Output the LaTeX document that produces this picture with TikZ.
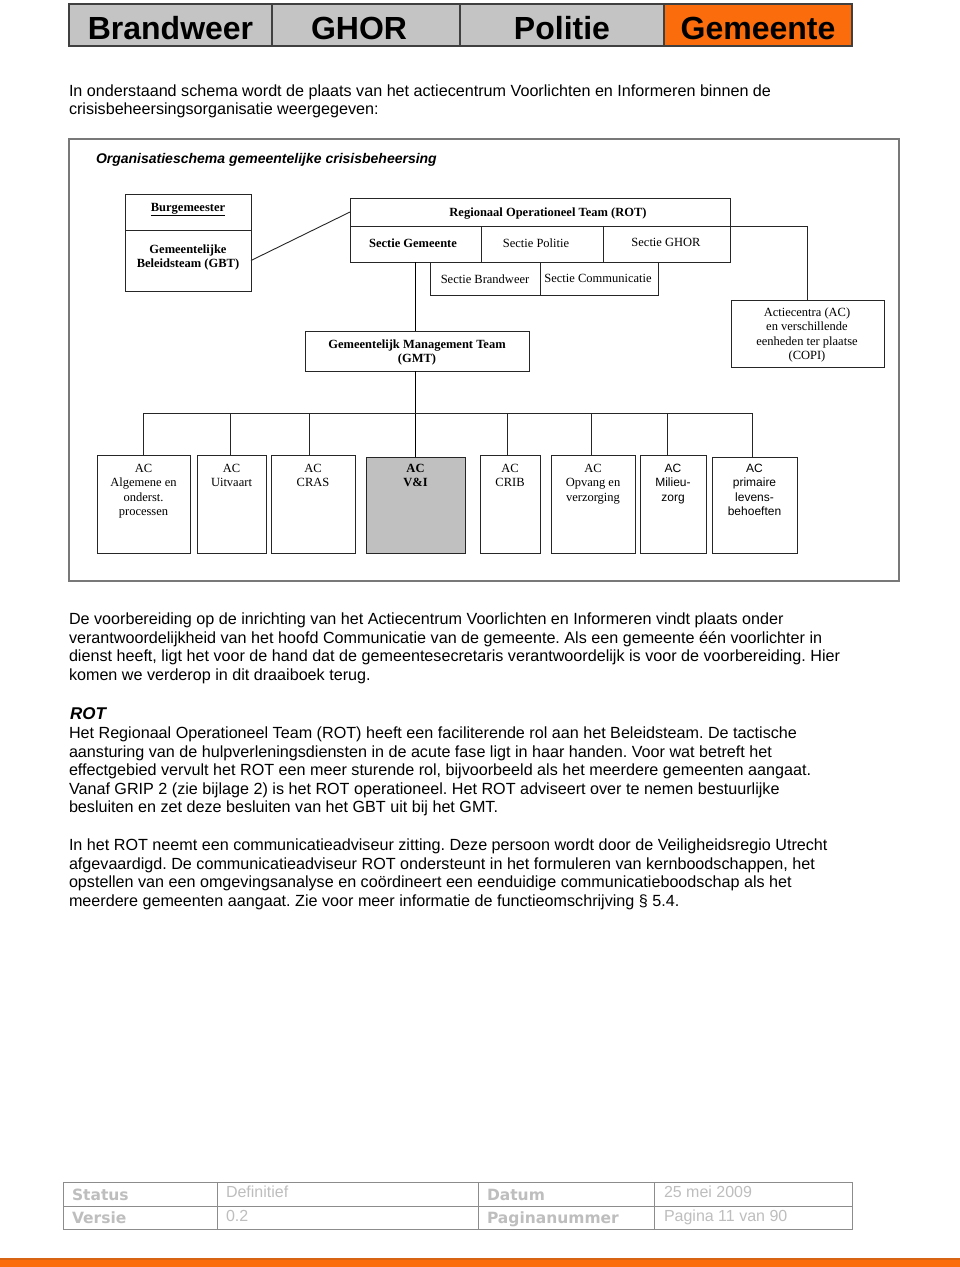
\documentclass[tikz,border=0pt]{standalone}
\usepackage{fontspec}
\setmainfont{Liberation Sans}
\newfontfamily\chartserif{Liberation Serif}
\newfontfamily\footlabelfont{DejaVu Sans}
\usetikzlibrary{fit,calc}
\definecolor{hdrgray}{RGB}{196,196,196}
\definecolor{hdrorange}{RGB}{250,108,12}
\definecolor{framegray}{RGB}{120,120,120}
\definecolor{vigray}{RGB}{192,192,192}
\definecolor{footline}{RGB}{140,140,140}
\definecolor{foottxt}{RGB}{190,190,190}
\definecolor{stripedark}{RGB}{215,100,20}
\newcommand\myst[1]{\rule{0pt}{#1}}
\frenchspacing
\begin{document}
\begin{tikzpicture}[x=1pt,y=-1pt,
  every node/.style={inner sep=0pt, outer sep=0pt},
  cell/.style={draw=black!75, line width=1.4pt},
  hdrtxt/.style={anchor=base, font=\fontsize{32}{36}\selectfont\bfseries},
  body/.style={anchor=north west, align=left, font=\fontsize{16.15}{18.6}\selectfont},
  chartbox/.style={draw=black!85, line width=1pt},
  ctxt/.style={anchor=north, align=center, font=\fontsize{12.5}{14.6}\selectfont\chartserif},
  ctxtb/.style={ctxt, font=\fontsize{12.5}{14.6}\selectfont\chartserif\bfseries},
  csans/.style={anchor=north, align=center, font=\fontsize{12}{14.6}\selectfont},
  conn/.style={draw=black!85, line width=0.9pt},
  thickconn/.style={draw=black, line width=1.8pt},
  fcell/.style={draw=footline, line width=0.9pt},
  flabel/.style={anchor=base west, text=foottxt, font=\fontsize{15.5}{18}\selectfont\footlabelfont\bfseries},
  fval/.style={anchor=base west, text=foottxt, font=\fontsize{16}{18}\selectfont}
]
\useasboundingbox (0,0) rectangle (960,1267);
\fill[white] (0,0) rectangle (960,1267);

% ---------- header ----------
\node[cell, fill=hdrgray, fit={(69,4) (272,46)}] (hb) {};
\node[cell, fill=hdrgray, fit={(272,4) (460,46)}] (hg) {};
\node[cell, fill=hdrgray, fit={(460,4) (664,46)}] (hp) {};
\node[cell, fill=hdrorange, fit={(664,4) (852,46)}] (hm) {};
\node[hdrtxt] (tb) at (hb.center |- 0,39) {Brandweer};
\node[hdrtxt] (tg) at ([xshift=-7pt]hg.center |- 0,39) {GHOR};
\node[hdrtxt] (tp) at (hp.center |- 0,39) {Politie};
\node[hdrtxt] (tm) at (hm.center |- 0,39) {Gemeente};

% ---------- intro ----------
\node[body] (intro) at (69,84) {\myst{12pt}In onderstaand schema wordt de plaats van het actiecentrum Voorlichten en Informeren binnen de\\
crisisbeheersingsorganisatie weergegeven:};

% ---------- chart frame ----------
\node[draw=framegray, line width=1.3pt, fit={(69,139) (899,581)}] (frame) {};
\node[anchor=base west, font=\fontsize{14}{16}\selectfont\bfseries\itshape] (title) at (96,163) {Organisatieschema gemeentelijke crisisbeheersing};

% boxes
\node[chartbox, fit={(125,194) (251,230)}] (bm) {};
\node[chartbox, fit={(125,230) (251,291)}] (gbt) {};
\node[chartbox, fit={(350,198) (730,226)}] (rot) {};
\node[chartbox, fit={(350,226) (481,262)}] (sg) {};
\node[chartbox, fit={(481,226) (603,262)}] (sp) {};
\node[chartbox, fit={(603,226) (730,262)}] (sgh) {};
\node[chartbox, fit={(430,262) (540,295)}] (sb) {};
\node[chartbox, fit={(540,262) (658,295)}] (sc) {};
\node[chartbox, fit={(731,300) (884,367)}] (copi) {};
\node[chartbox, fit={(305,331) (529,371)}] (gmt) {};
\node[chartbox, fit={(97,455) (190,553)}] (a1) {};
\node[chartbox, fit={(197,455) (266,553)}] (a2) {};
\node[chartbox, fit={(271,455) (355,553)}] (a3) {};
\node[chartbox, fill=vigray, fit={(366,457) (465,553)}] (a4) {};
\node[chartbox, fit={(480,455) (540,553)}] (a5) {};
\node[chartbox, fit={(551,455) (635,553)}] (a6) {};
\node[chartbox, fit={(640,455) (706,553)}] (a7) {};
\node[chartbox, fit={(712,457) (797,553)}] (a8) {};

% box texts
\node[ctxtb] (tbm) at (188,202) {\myst{9pt}\underline{Burgemeester}};
\node[ctxtb] (tgbt) at (188,244) {\myst{9pt}Gemeentelijke\\Beleidsteam (GBT)};
\node[ctxtb] (trot) at (548,207) {\myst{9pt}Regionaal Operationeel Team (ROT)};
\node[ctxtb] (tsg) at (413,238) {\myst{9pt}Sectie Gemeente};
\node[ctxt] (tsp) at (536,238) {\myst{9pt}Sectie Politie};
\node[ctxt] (tsgh) at (666,237) {\myst{9pt}Sectie GHOR};
\node[ctxt] (tsb) at (485,274) {\myst{9pt}Sectie Brandweer};
\node[ctxt] (tsc) at (598,273) {\myst{9pt}Sectie Communicatie};
\node[ctxt] (tcopi) at (807,307) {\myst{9pt}Actiecentra (AC)\\en verschillende\\eenheden ter plaatse\\(COPI)};
\node[ctxtb] (tgmt) at (417,339) {\myst{9pt}Gemeentelijk Management Team\\(GMT)};
\node[ctxt] (ta1) at (a1.north |- 0,463) {\myst{9pt}AC\\Algemene en\\onderst.\\processen};
\node[ctxt] (ta2) at (a2.north |- 0,463) {\myst{9pt}AC\\Uitvaart};
\node[ctxt] (ta3) at (a3.north |- 0,463) {\myst{9pt}AC\\CRAS};
\node[ctxtb] (ta4) at (a4.north |- 0,463) {\myst{9pt}AC\\V\&I};
\node[ctxt] (ta5) at (a5.north |- 0,463) {\myst{9pt}AC\\CRIB};
\node[ctxt] (ta6) at (a6.north |- 0,463) {\myst{9pt}AC\\Opvang en\\verzorging};
\node[csans] (ta7) at (a7.north |- 0,463) {\myst{9pt}AC\\Milieu-\\zorg};
\node[csans] (ta8) at (a8.north |- 0,463) {\myst{9pt}AC\\primaire\\levens-\\behoeften};

% connectors
\draw[conn] (gbt.east) -- (rot.west);
\draw[conn] (rot.south east) -| (copi.north);
\draw[thickconn] (sg.south) -- (sg.south |- gmt.north);
\draw[thickconn] (sg.south |- gmt.south) -- (sg.south |- a4.north);
\coordinate (busL) at (143,413);
\coordinate (busR) at (752,413);
\draw[conn] (busL) -- (busR);
\foreach \n/\x in {a1/143,a2/230,a3/309,a5/507,a6/591,a7/667,a8/752}
  \draw[conn] (\x,413) -- (\x,413 |- \n.north);

% ---------- body text ----------
\node[body] (p1) at (69,612.5) {\myst{12pt}De voorbereiding op de inrichting van het Actiecentrum Voorlichten en Informeren vindt plaats onder\\
verantwoordelijkheid van het hoofd Communicatie van de gemeente. Als een gemeente één voorlichter in\\
dienst heeft, ligt het voor de hand dat de gemeentesecretaris verantwoordelijk is voor de voorbereiding. Hier\\
komen we verderop in dit draaiboek terug.};
\node[anchor=base west, font=\fontsize{17}{20}\selectfont\bfseries\itshape] (hrot) at (70,719) {ROT};
\node[body] (p2) at (69,726.5) {\myst{12pt}Het Regionaal Operationeel Team (ROT) heeft een faciliterende rol aan het Beleidsteam. De tactische\\
aansturing van de hulpverleningsdiensten in de acute fase ligt in haar handen. Voor wat betreft het\\
effectgebied vervult het ROT een meer sturende rol, bijvoorbeeld als het meerdere gemeenten aangaat.\\
Vanaf GRIP 2 (zie bijlage 2) is het ROT operationeel. Het ROT adviseert over te nemen bestuurlijke\\
besluiten en zet deze besluiten van het GBT uit bij het GMT.};
\node[body] (p3) at (69,838.5) {\myst{12pt}In het ROT neemt een communicatieadviseur zitting. Deze persoon wordt door de Veiligheidsregio Utrecht\\
afgevaardigd. De communicatieadviseur ROT ondersteunt in het formuleren van kernboodschappen, het\\
opstellen van een omgevingsanalyse en coördineert een eenduidige communicatieboodschap als het\\
meerdere gemeenten aangaat. Zie voor meer informatie de functieomschrijving \S\ 5.4.};

% ---------- footer ----------
\node[fcell, fit={(63,1182) (217,1206)}] (f11) {};
\node[fcell, fit={(217,1182) (478,1206)}] (f12) {};
\node[fcell, fit={(478,1182) (654,1206)}] (f13) {};
\node[fcell, fit={(654,1182) (852,1206)}] (f14) {};
\node[fcell, fit={(63,1206) (217,1229)}] (f21) {};
\node[fcell, fit={(217,1206) (478,1229)}] (f22) {};
\node[fcell, fit={(478,1206) (654,1229)}] (f23) {};
\node[fcell, fit={(654,1206) (852,1229)}] (f24) {};
\node[flabel] (ls) at (72,1200) {Status};
\node[flabel] (lv) at (72,1223) {Versie};
\node[flabel] (ld) at (487,1200) {Datum};
\node[flabel] (lp) at (487,1223) {Paginanummer};
\node[fval] (vs) at (226,1197) {Definitief};
\node[fval] (vv) at (226,1221) {0.2};
\node[fval] (vd) at (664,1197) {25 mei 2009};
\node[fval] (vp) at (664,1221) {Pagina 11 van 90};

% bottom stripe
\fill[hdrorange] (0,1258) rectangle (960,1267);
\fill[stripedark] (0,1258) rectangle (960,1259.5);
\end{tikzpicture}
\end{document}
